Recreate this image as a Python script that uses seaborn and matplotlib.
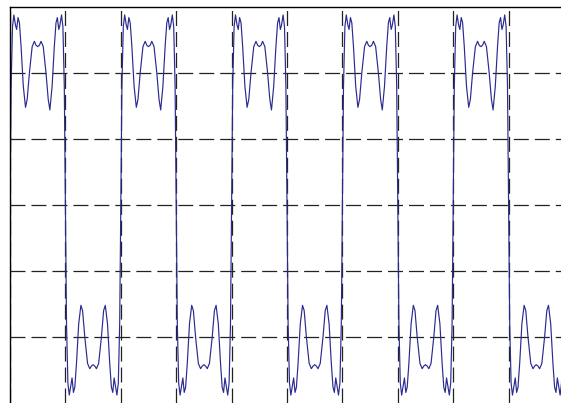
import numpy as np
import pandas as pd
import matplotlib
matplotlib.use("Agg")
import matplotlib.pyplot as plt
import seaborn as sns

# ---- data (one period: positive half + negative half) ----
half_pos = [0.00, 0.02, 0.045, 0.07, 0.10, 0.12, 0.145, 0.17, 0.20, 0.24, 0.28, 0.31,
            0.35, 0.40, 0.44, 0.47, 0.50, 0.53, 0.56, 0.60, 0.65, 0.69, 0.72, 0.76,
            0.80, 0.83, 0.855, 0.88, 0.90, 0.93, 0.955, 0.98]
high_vals = [0.00, 0.90, 1.35, 1.44, 1.36, 1.33, 1.42, 1.38, 1.20, 0.90, 0.74, 0.80,
             1.00, 1.20, 1.24, 1.21, 1.20, 1.21, 1.24, 1.20, 1.00, 0.80, 0.72, 0.90,
             1.20, 1.38, 1.42, 1.33, 1.36, 1.44, 1.35, 0.90]
low_vals = [0.00, -0.90, -1.35, -1.44, -1.36, -1.31, -1.42, -1.38, -1.20, -0.90, -0.76, -0.80,
            -1.00, -1.20, -1.24, -1.22, -1.21, -1.22, -1.24, -1.20, -1.00, -0.80, -0.76, -0.90,
            -1.20, -1.38, -1.42, -1.31, -1.36, -1.44, -1.35, -0.90]
n_periods = 5
x_ticks = [0, 1, 2, 3, 4, 5, 6, 7, 8, 9]
y_ticks = [-1.0, -0.5, 0.0, 0.5, 1.0]

# ---- assemble trace ----
xs, ys = [], []
for p in range(n_periods):
    base = 2 * p
    for u, v in zip(half_pos, high_vals):
        xs.append(base + u); ys.append(v)
    for u, v in zip(half_pos, low_vals):
        xs.append(base + 1 + u); ys.append(v)
xs.append(2 * n_periods); ys.append(0.0)
df = pd.DataFrame({"t": xs, "v": ys})

sns.set_style("white")
plt.rcParams["lines.scale_dashes"] = False

W, H = 561, 403
fig = plt.figure(figsize=(W / 100, H / 100), dpi=100)
ax = fig.add_axes([10 / W, 1 - 7 / H - 396 / H, 554 / W, 396 / H])

sns.lineplot(data=df, x="t", y="v", ax=ax, color="#2a2a90", linewidth=0.85,
             estimator=None, sort=False)

ax.set_xlim(0, 10)
ax.set_ylim(-1.5, 1.5)
ax.set_xticks(x_ticks)
ax.set_yticks(y_ticks)
ax.tick_params(left=False, bottom=False, labelleft=False, labelbottom=False)
ax.set_xlabel("")
ax.set_ylabel("")
dash = (0, (10.8, 4.3))
ax.grid(True, color="#222222", linewidth=0.9, linestyle=dash)
ax.set_axisbelow(True)
for s in ["bottom", "right"]:
    ax.spines[s].set_visible(False)
for s in ["top", "left"]:
    ax.spines[s].set_color("black")
    ax.spines[s].set_linewidth(1.0)

fig.savefig("out.png", dpi=100)
